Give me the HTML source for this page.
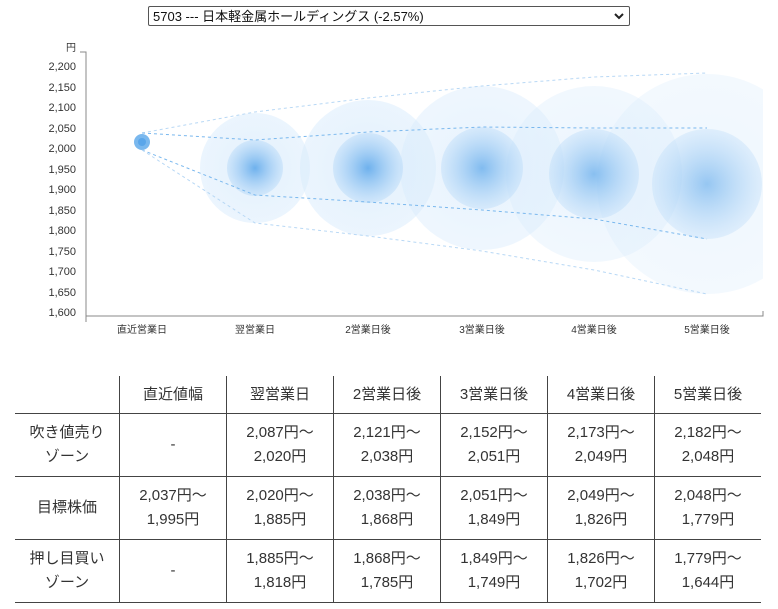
<!DOCTYPE html>
<html><head><meta charset="utf-8"><style>
body{margin:0;background:#fff;font-family:"Liberation Sans","Noto Sans CJK JP",sans-serif;width:778px;height:609px;overflow:hidden;position:relative}
.sel{position:absolute;left:148px;top:6px;width:482px;height:20px;border:1px solid #555;border-radius:2px;font-size:13px;line-height:19px;box-sizing:border-box;padding-left:4px;color:#111}
.sel svg{position:absolute;right:5px;top:6px}
svg.ch{position:absolute;left:0;top:0}
table{position:absolute;left:15px;top:376px;border-collapse:collapse;font-size:15px;color:#333}
td{width:106px;text-align:center;border-left:1px solid #444;line-height:24px;padding:0;height:62px;border-bottom:1px solid #444}
td:first-child{border-left:none;width:104px}
tr.h td{height:37px}
</style></head><body>
<div class="sel">5703 --- 日本軽金属ホールディングス (-2.57%)<svg width="10" height="7"><path d="M1,1L5,5L9,1" stroke="#222" stroke-width="2" fill="none"/></svg></div>
<svg class="ch" width="778" height="340">
<defs>
<radialGradient id="g"><stop offset="0" stop-color="#5aa6ea" stop-opacity="0.85"/><stop offset="1" stop-color="#b5d8f8" stop-opacity="0.45"/></radialGradient>
<radialGradient id="o"><stop offset="0" stop-color="#cfe6fb" stop-opacity="0.6"/><stop offset="1" stop-color="#d8ebfc" stop-opacity="0.5"/></radialGradient>
<clipPath id="c"><rect x="87" y="40" width="676" height="276"/></clipPath>
</defs>
<g clip-path="url(#c)">
<circle cx="707" cy="184" r="110" fill="url(#o)" opacity="0.6"/>
<circle cx="594" cy="174" r="88" fill="url(#o)" opacity="0.7"/>
<circle cx="482" cy="168" r="82" fill="url(#o)" opacity="0.85"/>
<circle cx="368" cy="168" r="68" fill="url(#o)"/>
<circle cx="255" cy="168" r="55" fill="url(#o)"/>
<circle cx="707" cy="184" r="55" fill="url(#g)" opacity="0.7"/>
<circle cx="594" cy="174" r="45" fill="url(#g)" opacity="0.8"/>
<circle cx="482" cy="168" r="41" fill="url(#g)" opacity="0.85"/>
<circle cx="368" cy="168" r="35" fill="url(#g)"/>
<circle cx="255" cy="168" r="28" fill="url(#g)"/>
<circle cx="142" cy="142" r="8" fill="#7ab8ee"/>
<circle cx="142" cy="142" r="4" fill="#5aa6ea"/>
</g>
<g fill="none" stroke-dasharray="3,3">
<polyline stroke="#b8d8f5" points="142,133 255,112 368,98 482,86 594,77 707,73"/>
<polyline stroke="#7ab8ee" points="142,133 255,140 368,132 482,127 594,128 707,128"/>
<polyline stroke="#7ab8ee" points="142,150 255,195 368,202 482,210 594,219 707,239"/>
<polyline stroke="#b8d8f5" points="142,150 255,223 368,236 482,251 594,270 707,294"/>
</g>
<g stroke="#888" fill="none"><path d="M80,52H86V316H763V311M86,316V322"/></g>
<g font-size="11" fill="#333" text-anchor="end">
<text x="76" y="51" font-size="10">円</text>
<text x="76" y="70">2,200</text><text x="76" y="91">2,150</text><text x="76" y="111">2,100</text><text x="76" y="132">2,050</text><text x="76" y="152">2,000</text><text x="76" y="173">1,950</text><text x="76" y="193">1,900</text><text x="76" y="214">1,850</text><text x="76" y="234">1,800</text><text x="76" y="255">1,750</text><text x="76" y="275">1,700</text><text x="76" y="296">1,650</text><text x="76" y="316">1,600</text>
</g>
<g font-size="10" fill="#333" text-anchor="middle">
<text x="142" y="333">直近営業日</text><text x="255" y="333">翌営業日</text><text x="368" y="333">2営業日後</text><text x="482" y="333">3営業日後</text><text x="594" y="333">4営業日後</text><text x="707" y="333">5営業日後</text>
</g>
</svg>
<table>
<tr class="h"><td></td><td>直近値幅</td><td>翌営業日</td><td>2営業日後</td><td>3営業日後</td><td>4営業日後</td><td>5営業日後</td></tr>
<tr><td>吹き値売り<br>ゾーン</td><td>-</td><td>2,087円〜<br>2,020円</td><td>2,121円〜<br>2,038円</td><td>2,152円〜<br>2,051円</td><td>2,173円〜<br>2,049円</td><td>2,182円〜<br>2,048円</td></tr>
<tr><td>目標株価</td><td>2,037円〜<br>1,995円</td><td>2,020円〜<br>1,885円</td><td>2,038円〜<br>1,868円</td><td>2,051円〜<br>1,849円</td><td>2,049円〜<br>1,826円</td><td>2,048円〜<br>1,779円</td></tr>
<tr><td>押し目買い<br>ゾーン</td><td>-</td><td>1,885円〜<br>1,818円</td><td>1,868円〜<br>1,785円</td><td>1,849円〜<br>1,749円</td><td>1,826円〜<br>1,702円</td><td>1,779円〜<br>1,644円</td></tr>
</table>
</body></html>
